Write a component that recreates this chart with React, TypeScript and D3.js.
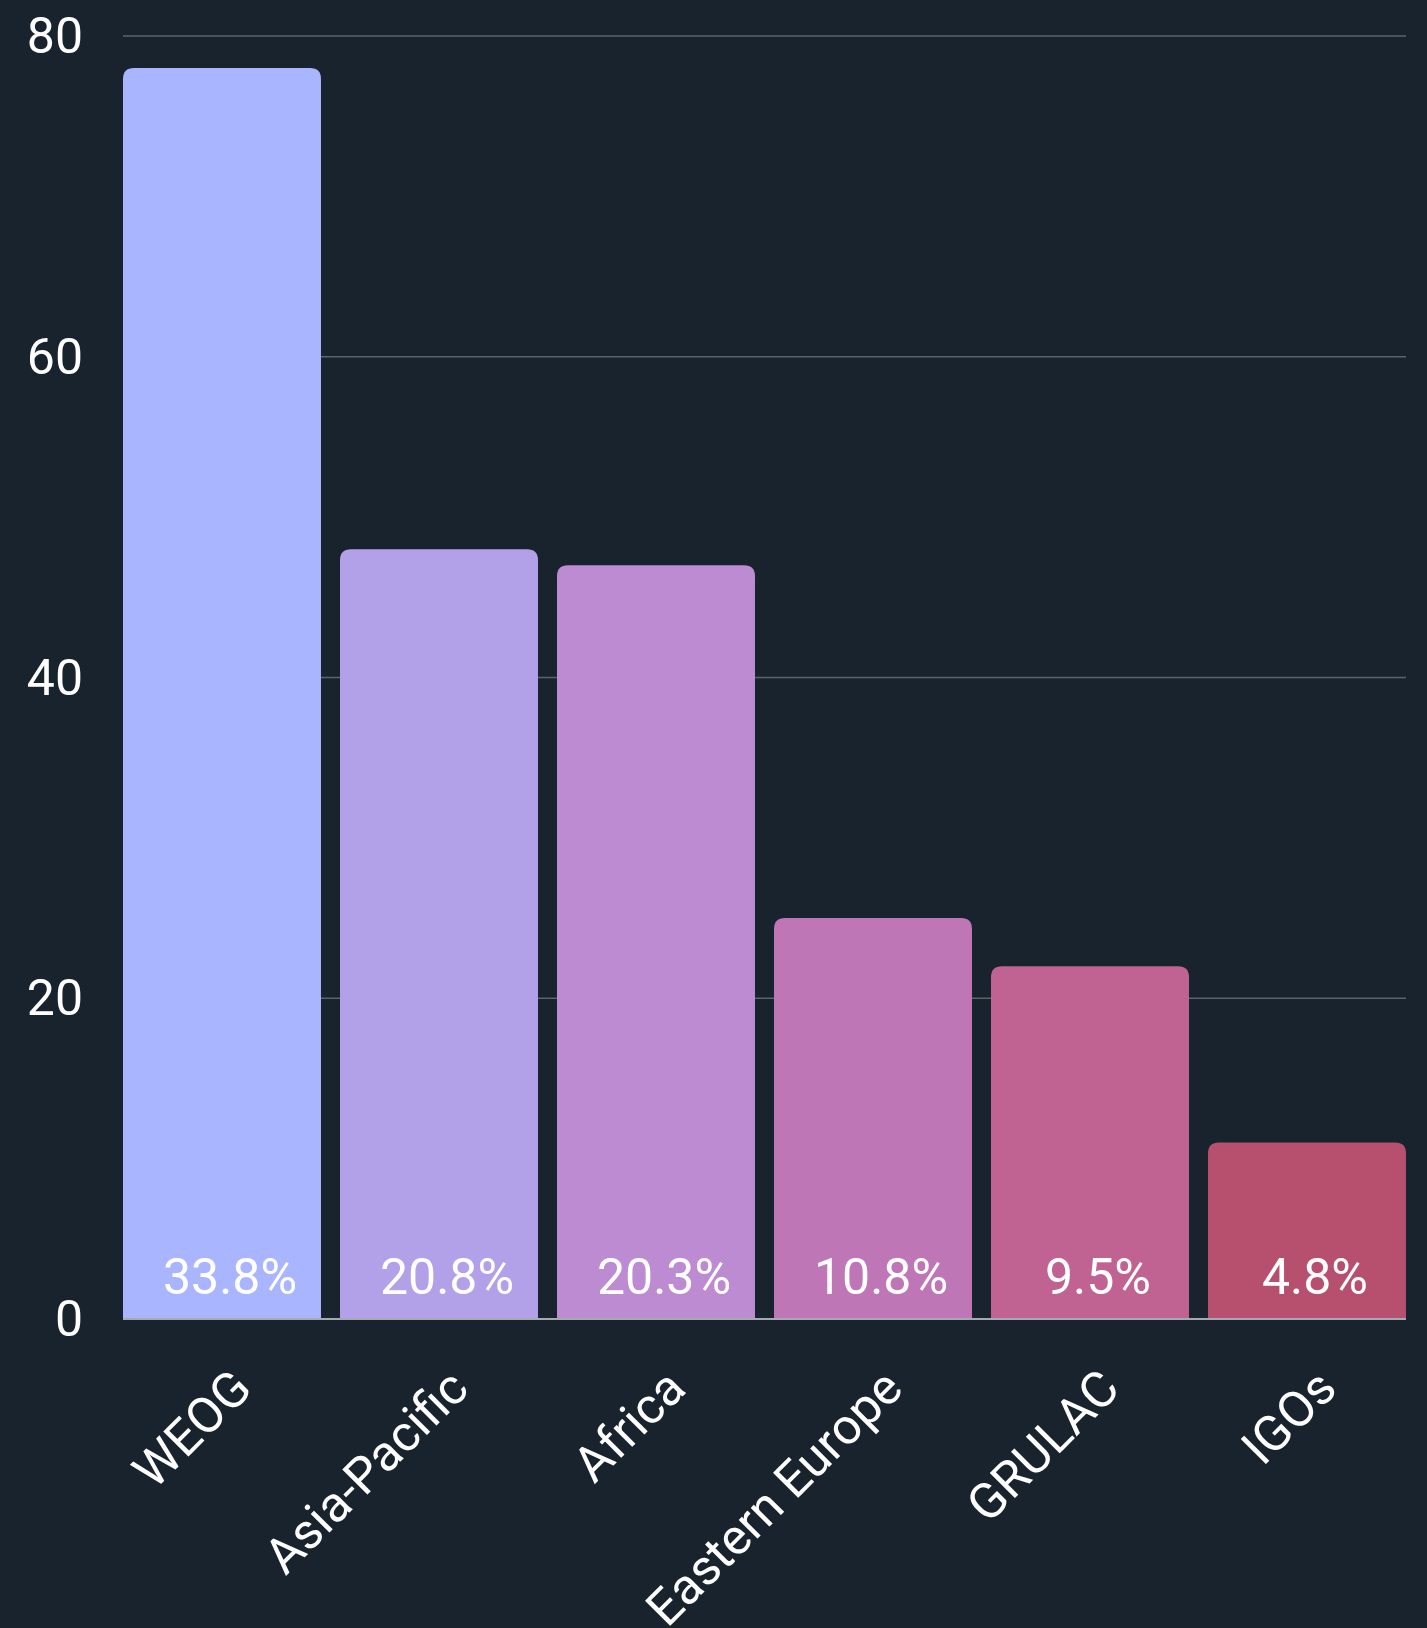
import * as d3 from "d3";
import React from "react";

const categories = ["WEOG", "Asia-Pacific", "Africa", "Eastern Europe", "GRULAC", "IGOs"];
const counts = [78, 48, 47, 25, 22, 11];
const shares = ["33.8%", "20.8%", "20.3%", "10.8%", "9.5%", "4.8%"];
const colors = ["#a9b5fe", "#b2a0e8", "#bc8bd2", "#bf76b6", "#c06292", "#b7506e"];
const yTicks = [0, 20, 40, 60, 80];

const width = 1427;
const height = 1628;
const font = "Roboto, 'Noto Sans', sans-serif";

const topRounded = (x, y, w, h, r) =>
  `M${x},${y + h}V${y + r}Q${x},${y} ${x + r},${y}H${x + w - r}Q${x + w},${y} ${x + w},${y + r}V${y + h}Z`;

const App = () => {
  const x = d3.scaleBand().domain(categories).range([123, 1406]).paddingInner(0.0876).paddingOuter(0);
  const y = d3.scaleLinear().domain([0, 80]).range([1319, 36]);

  return (
    <svg
      width={width}
      height={height}
      style={{ position: "absolute", left: 0, top: 0, display: "block", background: "#19232d" }}
    >
      <rect width={width} height={height} fill="#19232d" />
      <g>
        {yTicks.filter((t) => t > 0).map((t) => (
          <line key={t} x1={123} x2={1406} y1={y(t)} y2={y(t)} stroke="#5a646d" strokeWidth={1.5} />
        ))}
      </g>
      <g>
        {categories.map((c, i) => (
          <path
            key={c}
            d={topRounded(x(c), y(counts[i]), x.bandwidth(), y(0) - y(counts[i]), 11)}
            fill={colors[i]}
          />
        ))}
      </g>
      <line x1={123} x2={1406} y1={y(0)} y2={y(0)} stroke="#a3aab2" strokeWidth={2} />
      <g fontFamily={font} fontSize={50} fill="#ffffff">
        {yTicks.map((t) => (
          <text key={t} x={83} y={y(t)} textAnchor="end" dominantBaseline="central">
            {t}
          </text>
        ))}
        {categories.map((c, i) => (
          <text key={c} x={x(c) + x.bandwidth() / 2 + 8} y={1294} textAnchor="middle">
            {shares[i]}
          </text>
        ))}
        {categories.map((c) => {
          const px = x(c) + x.bandwidth() / 2 + 32;
          const py = 1391;
          return (
            <text key={c} x={px} y={py} textAnchor="end" transform={`rotate(-45 ${px} ${py})`}>
              {c}
            </text>
          );
        })}
      </g>
    </svg>
  );
};

export default App;
